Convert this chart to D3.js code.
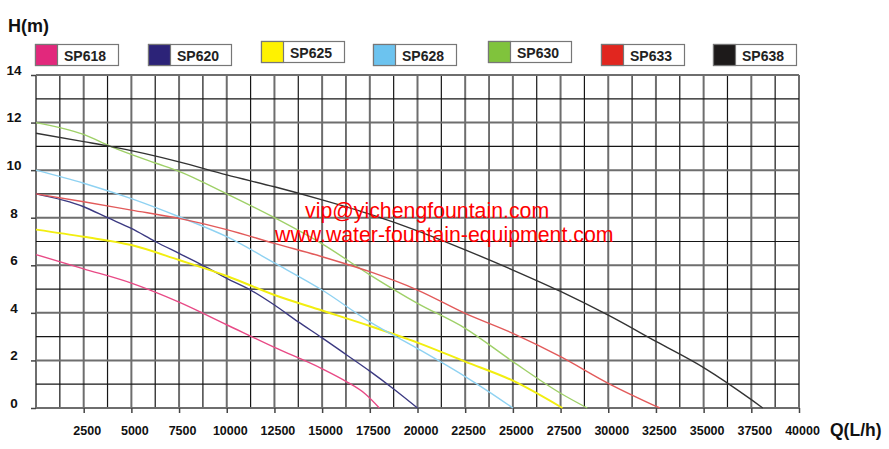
<!DOCTYPE html>
<html>
<head>
<meta charset="utf-8">
<script src="https://cdn.jsdelivr.net/npm/d3@7"></script>
<style>
  html, body { margin: 0; padding: 0; background: #fff; }
  svg { display: block; font-family: "Liberation Sans", Arial, sans-serif; }
</style>
</head>
<body>
<svg id="chart" width="889" height="449"></svg>
<script>
// ---- data ----
const seriesNames = ["SP618", "SP620", "SP625", "SP628", "SP630", "SP633", "SP638"];
const legendColors = ["#e2287c", "#2c2378", "#fff200", "#6cc3ef", "#80c33c", "#e1261f", "#1d1a1a"];
const lineColors = ["#e84a86", "#3c3a82", "#f2ee10", "#8fd2f2", "#9fd068", "#e25a5a", "#333333"];

const SP618 = [[0,6.45],[2500,5.85],[5000,5.25],[7500,4.45],[10000,3.5],[12500,2.55],[15000,1.65],[16250,1.12],[17250,0.6],[18000,0]];
const SP620 = [[0,9.0],[2500,8.46],[3750,8.0],[5000,7.55],[6250,7.0],[7500,6.5],[8750,6.0],[10000,5.45],[11250,4.96],[12500,4.33],[13750,3.62],[15000,2.95],[16250,2.25],[17500,1.55],[18750,0.8],[20000,0]];
const SP625 = [[0,7.5],[2500,7.2],[5000,6.85],[7500,6.22],[10000,5.55],[12500,4.75],[15000,4.1],[17500,3.45],[20000,2.75],[22500,1.95],[25000,1.15],[27600,0]];
const SP628 = [[0,10.0],[2500,9.45],[5000,8.8],[7500,8.04],[10000,7.2],[12500,6.1],[15000,4.96],[17500,3.62],[20000,2.5],[22500,1.32],[23750,0.68],[25000,0]];
const SP630 = [[0,12.0],[2500,11.5],[3900,11.0],[6250,10.3],[7500,9.95],[10000,9.0],[12500,8.0],[15000,6.9],[17500,5.6],[20000,4.4],[22500,3.35],[25000,1.95],[27500,0.62],[28900,0]];
const SP633 = [[0,9.0],[2500,8.67],[5000,8.32],[7500,7.97],[10000,7.5],[12500,6.92],[15000,6.36],[17500,5.73],[20000,4.96],[22500,3.98],[25000,3.14],[27500,2.16],[30000,1.04],[32700,0]];
const SP638 = [[0,11.55],[2500,11.2],[3900,11.0],[7500,10.35],[10000,9.8],[12500,9.3],[15000,8.75],[17500,8.15],[20000,7.45],[22500,6.65],[25000,5.8],[27500,4.9],[30000,3.9],[32500,2.8],[35000,1.7],[37500,0.35],[38100,0]];
const seriesData = [SP618, SP620, SP625, SP628, SP630, SP633, SP638];

const xTickValues = [2500,5000,7500,10000,12500,15000,17500,20000,22500,25000,27500,30000,32500,35000,37500,40000];
const yTickValues = [0,2,4,6,8,10,12,14];
const xTitle = "Q(L/h)";
const yTitle = "H(m)";
const watermark1 = "vip@yichengfountain.com";
const watermark2 = "www.water-fountain-equipment.com";

// ---- layout ----
const svg = d3.select("#chart");
const x = d3.scaleLinear().domain([0, 40000]).range([36, 799]);
const y = d3.scaleLinear().domain([0, 14]).range([408, 75]);

// grid
const grid = svg.append("g");
const minorX = d3.range(0, 40001, 1250);
const minorY = d3.range(0, 15, 1);
minorX.forEach(v => {
  const major = (v % 2500 === 0);
  grid.append("line")
    .attr("x1", x(v)).attr("x2", x(v))
    .attr("y1", y(0)).attr("y2", y(14))
    .attr("stroke", major ? "#6e6e6e" : "#161616")
    .attr("stroke-width", major ? 2 : 1.2);
});
minorY.forEach(v => {
  const major = (v % 2 === 0);
  grid.append("line")
    .attr("x1", x(0)).attr("x2", x(40000))
    .attr("y1", y(v)).attr("y2", y(v))
    .attr("stroke", major ? "#6e6e6e" : "#161616")
    .attr("stroke-width", major ? 2 : 1.2);
});

// axes
const xAxis = d3.axisBottom(x).tickValues(xTickValues).tickSize(5).tickPadding(13).tickFormat(d3.format("d"));
const gx = svg.append("g").attr("transform", `translate(0,${y(0)})`).call(xAxis);
gx.select(".domain").remove();
gx.selectAll(".tick line").attr("stroke", "#444").attr("stroke-width", 1.5);
gx.selectAll(".tick text")
  .attr("dx", 3)
  .attr("fill", "#111")
  .style("font-size", "12.5px").style("font-weight", "bold")
  .style("font-family", "'Liberation Sans', Arial, sans-serif");

const yAxis = d3.axisLeft(y).tickValues(yTickValues).tickSize(5).tickPadding(8);
const gy = svg.append("g").attr("transform", `translate(${x(0)},0)`).call(yAxis);
gy.select(".domain").remove();
gy.selectAll(".tick line").attr("stroke", "#444").attr("stroke-width", 1.5);
gy.selectAll(".tick text")
  .attr("text-anchor", "middle").attr("x", -22).attr("dy", "-0.05em")
  .attr("fill", "#111")
  .style("font-size", "13.5px").style("font-weight", "bold")
  .style("font-family", "'Liberation Sans', Arial, sans-serif");

// titles
svg.append("text").attr("x", 8).attr("y", 32).text(yTitle)
  .attr("fill", "#111").style("font-size", "18px").style("font-weight", "bold");
svg.append("text").attr("x", 830).attr("y", 436).text(xTitle)
  .attr("fill", "#111").style("font-size", "17.5px").style("font-weight", "bold");

// curves
const line = d3.line().x(d => x(d[0])).y(d => y(d[1])).curve(d3.curveMonotoneX);
const curves = svg.append("g");
seriesData.forEach((s, i) => {
  curves.append("path")
    .datum(s)
    .attr("d", line)
    .attr("fill", "none")
    .attr("stroke", lineColors[i])
    .attr("stroke-width", i === 2 ? 2 : 1.4);
});

// legend
const legendX = [35, 148, 261, 373, 488, 601, 713];
const legendY = [44, 44, 41, 44, 41, 44, 44];
const lg = svg.append("g");
seriesNames.forEach((name, i) => {
  const g = lg.append("g").attr("transform", `translate(${legendX[i]},${legendY[i]})`);
  g.append("rect").attr("x", 0.5).attr("y", 0.5).attr("width", 83).attr("height", 21)
    .attr("fill", "#fff").attr("stroke", "#777").attr("stroke-width", 1.2);
  g.append("rect").attr("x", 0.5).attr("y", 0.5).attr("width", 22).attr("height", 21)
    .attr("fill", legendColors[i]).attr("stroke", "#777").attr("stroke-width", 1.2);
  g.append("text").attr("x", 50).attr("y", 16.5).attr("text-anchor", "middle")
    .text(name).attr("fill", "#222")
    .style("font-size", "14px").style("font-weight", "bold");
});

// watermark
svg.append("text").attr("x", 305).attr("y", 218).text(watermark1)
  .attr("fill", "#ff0000").style("font-size", "21.3px");
svg.append("text").attr("x", 275).attr("y", 242).text(watermark2)
  .attr("fill", "#ff0000").style("font-size", "21.3px");
</script>
</body>
</html>
